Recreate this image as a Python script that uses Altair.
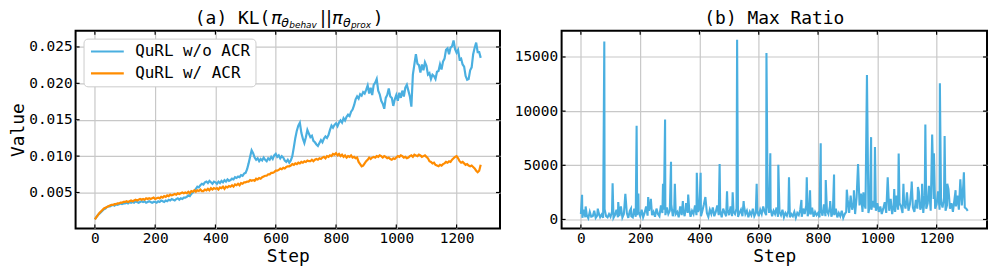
import altair as alt
import pandas as pd

# ---------------- data ----------------
series_names = ["QuRL w/o ACR", "QuRL w/ ACR"]
KL_STEP = 5  # one reading every 5 steps

# KL values, in units of 1e-4
kl_wo = [
    13, 16, 19, 21, 23, 25, 27, 28, 30, 31, 31, 32, 33, 32, 34, 33, 34, 35, 34, 35,
    35, 36, 35, 37, 36, 37, 36, 38, 37, 36, 37, 38, 37, 38, 36, 37, 38, 37, 36, 37,
    37, 36, 38, 37, 39, 38, 37, 39, 38, 40, 39, 41, 40, 39, 41, 42, 40, 42, 41, 43,
    43, 44, 46, 45, 48, 50, 52, 55, 58, 57, 60, 62, 61, 64, 65, 63, 66, 64, 62, 65,
    64, 62, 65, 63, 66, 64, 67, 65, 68, 66, 67, 69, 68, 71, 70, 72, 71, 74, 73, 76,
    77, 82, 90, 99, 108, 104, 98, 95, 97, 93, 96, 94, 98, 95, 93, 97, 95, 99, 96, 101,
    103, 99, 101, 97, 100, 98, 94, 92, 95, 91, 94, 100, 112, 125, 135, 142, 146, 132, 124, 118,
    126, 136, 131, 126, 128, 121, 119, 116, 114, 118, 122, 119, 124, 127, 125, 129, 136, 142, 139, 143,
    145, 141, 146, 149, 146, 152, 149, 154, 157, 155, 161, 164, 170, 178, 182, 179, 185, 183, 188, 186,
    191, 197, 186, 194, 184, 198, 201, 206, 190, 185, 176, 172, 165, 180, 184, 193, 182, 180, 169, 178,
    184, 176, 187, 180, 190, 182, 194, 198, 190, 182, 168, 212, 226, 240, 227, 225, 215, 226, 218, 229,
    224, 212, 214, 206, 212, 210, 206, 216, 217, 226, 219, 230, 234, 246, 248, 240, 249, 251, 259, 247,
    242, 246, 233, 234, 226, 223, 210, 205, 206, 218, 222, 240, 249, 256, 243, 243, 235,
]
kl_w = [
    13, 16, 19, 22, 24, 26, 28, 29, 30, 31, 32, 33, 33, 34, 34, 35, 35, 36, 36, 37,
    37, 38, 37, 38, 39, 38, 39, 40, 39, 40, 41, 40, 41, 40, 42, 41, 42, 41, 42, 43,
    41, 42, 43, 42, 44, 43, 45, 44, 46, 45, 47, 46, 47, 48, 47, 49, 48, 49, 50, 49,
    50, 49, 51, 49, 52, 51, 53, 51, 53, 52, 54, 52, 52, 54, 53, 55, 53, 56, 54, 56,
    55, 56, 54, 57, 56, 58, 55, 58, 57, 59, 58, 60, 58, 61, 60, 62, 60, 63, 62, 64,
    64, 65, 65, 67, 66, 67, 66, 69, 68, 70, 69, 71, 72, 73, 73, 75, 75, 77, 77, 78,
    80, 80, 81, 83, 82, 84, 83, 85, 86, 86, 87, 89, 88, 90, 89, 91, 90, 92, 91, 93,
    92, 94, 93, 93, 95, 93, 95, 96, 95, 97, 96, 98, 99, 97, 100, 99, 101, 100, 103, 102,
    104, 101, 103, 100, 102, 99, 101, 98, 100, 99, 101, 98, 99, 97, 98, 92, 89, 86, 87, 90,
    93, 95, 98, 96, 98, 99, 98, 100, 99, 101, 100, 98, 100, 99, 97, 98, 96, 95, 97, 96,
    98, 100, 99, 101, 100, 98, 99, 97, 98, 100, 101, 99, 102, 101, 100, 102, 101, 99, 100, 101,
    99, 97, 93, 92, 90, 91, 88, 87, 86, 88, 87, 89, 90, 92, 91, 93, 92, 95, 97, 99,
    100, 97, 93, 91, 92, 90, 88, 89, 87, 86, 87, 85, 83, 80, 78, 80, 88,
]

RATIO_STEP = 5
ratio_base = [
    500, 150, 900, 200, 400, 120, 700, 250, 300, 800, 150, 350, 600, 200, 450, 150, 950, 300, 200, 500,
    250, 700, 150, 400, 900, 200, 300, 1200, 180, 500, 250, 600, 150, 800, 300, 200, 1000, 250, 400, 700,
    300, 900, 200, 600, 1200, 350, 800, 1500, 400, 700, 250, 1000, 500, 300, 1300, 600, 900, 400, 1100, 500,
    800, 1400, 300, 1000, 500, 700, 200, 1200, 400, 900, 300, 1500, 600, 1100, 250, 800, 500, 1300, 400, 700,
    1000, 300, 800, 1400, 400, 600, 250, 900, 500, 1100, 300, 700, 1300, 400, 800, 200, 1000, 600, 300, 900,
    400, 1200, 300, 700, 500, 1000, 250, 600, 900, 300, 1300, 500, 800, 200, 700, 400, 1000, 300, 600, 800,
    300, 900, 500, 1200, 700, 400, 1500, 600, 1000, 300, 800, 500, 1100, 250, 700, 400, 900, 200, 600, 350,
    800, 200, 500, 300, 700, 150, 600, 400, 900, 250, 1000, 500, 1300, 300, 800, 450, 1100, 250, 700, 400,
    600, 200, 900, 350, 1400, 300, 800, 500, 1200, 250, 700, 400, 1000, 200, 600, 300, 800, 150, 500, 700,
    1800, 600, 2200, 900, 1500, 500, 2000, 800, 1300, 2400, 700, 1600, 1000, 2100, 600, 1400, 900, 1700, 1100, 800,
    1500, 700, 1200, 500, 1000, 1600, 600, 1100, 800, 1900, 500, 1300, 700, 2200, 900, 1500, 1200, 600, 1700, 1000,
    2500, 800, 1400, 2900, 1100, 700, 1800, 1000, 2600, 900, 1300, 600, 2200, 1000, 1500, 2700, 800, 1200, 1900, 1000,
    1400, 2600, 900, 1600, 1100, 2000, 800, 1300, 2800, 1000, 1500, 700, 1800, 1200, 2200, 900, 2600, 1300, 3200, 1100,
    1000, 800,
]
spike_steps = [4, 16, 57, 79, 107, 126, 150, 169, 188, 194, 227, 236, 277, 284, 304, 317,
               344, 362, 391, 404, 420, 468, 493, 512, 527, 549, 593, 626, 639, 666, 702,
               744, 762, 773, 809, 826, 841, 854, 897, 921, 935, 953, 965, 979, 992, 1035,
               1057, 1072, 1088, 1116, 1137, 1151, 1162, 1174, 1185, 1191, 1211, 1227, 1236,
               1264, 1280, 1292]
spike_vals = [2280, 1200, 1000, 16430, 3350, 1600, 2370, 1000, 8640, 2400, 2070, 1900, 3300, 9220, 5330, 3290,
              1700, 2300, 4320, 4320, 2070, 5110, 2600, 2500, 16600, 1700, 3290, 15370, 6120, 5050, 3900,
              1800, 3900, 2700, 7030, 3650, 1700, 4140, 2750, 2700, 5110, 2500, 13330, 7600, 6690, 3900,
              2800, 6090, 3300, 3500, 3000, 3300, 8760, 3100, 7850, 6100, 12570, 7700, 3300,
              2700, 3700, 4350]

x_ticks = [0, 200, 400, 600, 800, 1000, 1200]
kl_ticks = [0.005, 0.010, 0.015, 0.020, 0.025]
ratio_ticks = [0, 5000, 10000, 15000]

# ---------------- tables ----------------
kl_rows = []
for name, arr in zip(series_names, [kl_wo, kl_w]):
    for i, v in enumerate(arr):
        kl_rows.append({"Step": i * KL_STEP, "Value": v / 1e4, "series": name})
kl_df = pd.DataFrame(kl_rows)

ratio_map = {i * RATIO_STEP: v for i, v in enumerate(ratio_base)}
for s, v in zip(spike_steps, spike_vals):
    ratio_map[s] = v
ratio_df = pd.DataFrame(sorted(ratio_map.items()), columns=["Step", "Ratio"])

# ---------------- style ----------------
BLUE = "#4AAFE0"
ORANGE = "#FF8C00"
MONO = "DejaVu Sans Mono"
SANS = "DejaVu Sans"
W1, W2, H = 427, 428, 199
TICK = 4

def txt(s, x, y, size, font=MONO, style="normal", align="left"):
    return alt.Chart(pd.DataFrame({"t": [s]})).mark_text(
        align=align, baseline="alphabetic", font=font, fontSize=size,
        fontStyle=style, color="black"
    ).encode(text="t:N", x=alt.value(x), y=alt.value(y))

def tick_layers(xscale, yscale, yfield, yvals, width):
    xt = pd.DataFrame({"Step": x_ticks})
    yt = pd.DataFrame({yfield: yvals})
    base_x = alt.Chart(xt).mark_rule(color="black", strokeWidth=1.2)
    base_y = alt.Chart(yt).mark_rule(color="black", strokeWidth=1.2)
    xenc = alt.X("Step:Q", scale=xscale)
    yenc = alt.Y(f"{yfield}:Q", scale=yscale)
    return [
        base_x.encode(x=xenc, y=alt.value(H), y2=alt.value(H - TICK)),
        base_x.encode(x=xenc, y=alt.value(0), y2=alt.value(TICK)),
        base_y.encode(y=yenc, x=alt.value(0), x2=alt.value(TICK)),
        base_y.encode(y=yenc, x=alt.value(width), x2=alt.value(width - TICK)),
    ]

# ---------------- left panel ----------------
xs1 = alt.Scale(domain=[-64, 1344], nice=False, zero=False)
ys1 = alt.Scale(domain=[0.00006, 0.02724], nice=False, zero=False)

kl_lines = alt.Chart(kl_df).mark_line(strokeWidth=2.2).encode(
    x=alt.X("Step:Q", scale=xs1, axis=alt.Axis(values=x_ticks, format="d", title="Step")),
    y=alt.Y("Value:Q", scale=ys1, axis=alt.Axis(values=kl_ticks, format=".3f", title="Value")),
    color=alt.Color(
        "series:N",
        scale=alt.Scale(domain=series_names, range=[BLUE, ORANGE]),
        legend=alt.Legend(
            title=None, orient="none", legendX=8, legendY=8,
            symbolType="M-1,0H5", symbolSize=121, symbolStrokeWidth=2.2,
            labelFont=MONO, labelFontSize=16, labelColor="black", labelOffset=31,
            rowPadding=6, padding=5, strokeColor="#cccccc", fillColor="white",
            cornerRadius=4,
        ),
    ),
)

left_title = [
    txt("(a) KL(", 120, -7, 18),
    txt("π", 196.5, -7, 18, SANS, "italic"),
    txt("θ", 207, -4, 12.6, SANS, "italic"),
    txt("behav", 215, -2.5, 9, SANS, "italic"),
    txt("||", 246, -7, 18, SANS),
    txt("π", 258, -7, 18, SANS, "italic"),
    txt("θ", 269, -4, 12.6, SANS, "italic"),
    txt("prox", 277, -2.5, 9, SANS, "italic"),
    txt(")", 299, -7, 18),
]

left = alt.layer(
    kl_lines, *tick_layers(xs1, ys1, "Value", kl_ticks, W1), *left_title
).properties(width=W1, height=H)

# ---------------- right panel ----------------
xs2 = alt.Scale(domain=[-65, 1370], nice=False, zero=False)
ys2 = alt.Scale(domain=[-830, 17430], nice=False, zero=False)

ratio_line = alt.Chart(ratio_df).mark_line(strokeWidth=2.1, color=BLUE).encode(
    x=alt.X("Step:Q", scale=xs2, axis=alt.Axis(values=x_ticks, format="d", title="Step")),
    y=alt.Y("Ratio:Q", scale=ys2, axis=alt.Axis(values=ratio_ticks, format="d", title=None, labelPadding=4)),
)

right = alt.layer(
    ratio_line, *tick_layers(xs2, ys2, "Ratio", ratio_ticks, W2),
    txt("(b) Max Ratio", W2 / 2, -7, 18, align="center"),
).properties(width=W2, height=H)

chart = alt.hconcat(left, right, spacing=11).properties(
    padding={"left": 0, "top": 0, "right": 0, "bottom": 0}
).configure_axis(
    domain=False, ticks=False, labelFont=MONO, labelFontSize=14.5, labelColor="black",
    titleFont=MONO, titleFontSize=18, titleFontWeight="normal", titleColor="black",
    gridColor="#c8c8c8", gridWidth=1.2, labelPadding=4, labelOverlap=False,
).configure_axisX(titlePadding=3, labelPadding=3).configure_axisY(labelPadding=3.5, titlePadding=1).configure_view(
    stroke="black", strokeWidth=2
)

chart.save("out.html", embed_options={"renderer": "svg", "actions": False})
